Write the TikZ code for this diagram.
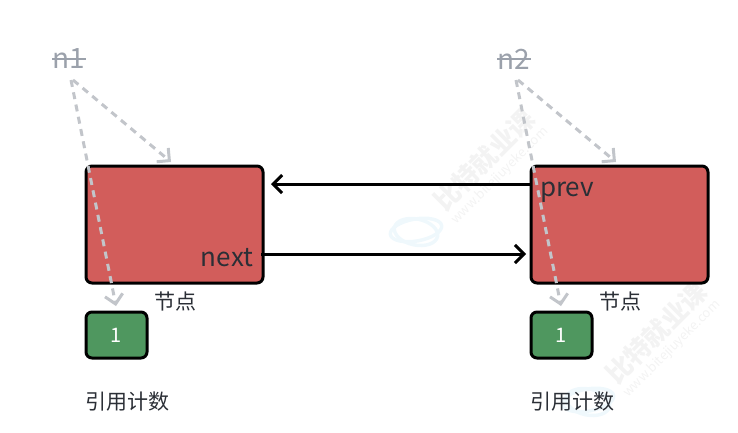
\documentclass[tikz,border=0pt]{standalone}
\usepackage{fontspec}
\setmainfont{Noto Sans CJK SC}
\usetikzlibrary{arrows.meta}
\definecolor{redfill}{HTML}{D25D5B}
\definecolor{greenfill}{HTML}{4F975F}
\definecolor{dashgray}{HTML}{C2C5CA}
\definecolor{refgray}{HTML}{9BA1AB}
\definecolor{inkdark}{HTML}{2B2F36}
\definecolor{wmgray}{HTML}{F3F3F3}
\definecolor{wmblue}{HTML}{EFF8FC}
\tikzset{
  x=1pt,y=-1pt,
  nodebox/.style={draw=black,line width=3pt,fill=redfill,rounded corners=6pt,minimum width=177pt,minimum height=117pt,inner sep=0pt,outer sep=0pt,anchor=north west},
  countbox/.style={draw=black,line width=3pt,fill=greenfill,rounded corners=6pt,minimum width=61pt,minimum height=46pt,inner sep=0pt,outer sep=0pt,anchor=north west,text=white,font=\fontsize{20}{20}\selectfont},
  reftext/.style={text=refgray,font=\fontsize{28}{28}\selectfont,inner sep=0pt},
  fieldtext/.style={text=inkdark,font=\fontsize{26}{26}\selectfont,inner sep=0pt},
  caption/.style={text=inkdark,font=\fontsize{21}{21}\selectfont,inner sep=0pt,anchor=west},
  strike/.style={draw=refgray,line width=1.6pt},
  dashlink/.style={draw=dashgray,line width=3pt,dash pattern=on 7pt off 5.5pt,-{Straight Barb[length=9pt,width=18pt,line width=3pt]}},
  solidlink/.style={draw=black,line width=3pt,-{Straight Barb[length=9pt,width=18pt,line width=3pt]}},
  wmtext/.style={text=wmgray,font=\bfseries\fontsize{26}{26}\selectfont,rotate=45,inner sep=0pt},
  wmurl/.style={text=wmgray,font=\fontsize{13}{13}\selectfont,rotate=45,inner sep=0pt},
  wmlogo/.style={draw=wmblue,line width=3.5pt}
}
\begin{document}
\begin{tikzpicture}
\useasboundingbox (0,0) rectangle (738,432);
% watermarks
\node[wmtext] (wa) at (484,160) {比特就业课};
\node[wmurl] (wb) at (500,176) {www.bitejiuyeke.com};
\draw[wmlogo,shift={(416,230)},rotate=10] (0,0) ellipse (26pt and 11pt);
\draw[wmlogo,shift={(416,232)},rotate=-12] (0,0) ellipse (22pt and 13pt);
\node[wmtext] (wc) at (656,333) {比特就业课};
\node[wmurl] (wd) at (672,349) {www.bitejiuyeke.com};
\draw[wmlogo,shift={(588,400)},rotate=10] (0,0) ellipse (26pt and 11pt);
\draw[wmlogo,shift={(588,402)},rotate=-12] (0,0) ellipse (22pt and 13pt);
% boxes
\node[nodebox] (node1) at (86,166) {};
\node[nodebox] (node2) at (531,166) {};
\node[countbox] (c1) at (86,312) {1};
\node[countbox] (c2) at (531,312) {1};
% labels
\node[reftext] (n1) at (69,59) {n1};
\node[reftext] (n2) at (514,59) {n2};
\draw[strike] (n1.west) -- (n1.east);
\draw[strike] (n2.west) -- (n2.east);
\node[fieldtext] (next) at (227,258) {next};
\node[fieldtext] (prev) at (567,192) {prev};
\node[caption] (t1) at (154,302) {节点};
\node[caption] (t2) at (599,302) {节点};
\node[caption] (r1) at (85,402) {引用计数};
\node[caption] (r2) at (530,402) {引用计数};
% solid links
\coordinate (aL) at (271,184);
\coordinate (aR) at (531,184);
\coordinate (bL) at (261,254);
\coordinate (bR) at (526,254);
\draw[solidlink] (aR) -- (aL);
\draw[solidlink] (bL) -- (bR);
% dashed links
\coordinate (s1) at (71,80); \coordinate (s1b) at (73,80);
\coordinate (s2) at (516,80); \coordinate (s2b) at (518,80);
\coordinate (e1) at (116,306); \coordinate (e1b) at (171,162);
\coordinate (e2) at (561,306); \coordinate (e2b) at (616,162);
\draw[dashlink] (s1) -- (e1);
\draw[dashlink] (s1b) -- (e1b);
\draw[dashlink] (s2) -- (e2);
\draw[dashlink] (s2b) -- (e2b);
\end{tikzpicture}
\end{document}
